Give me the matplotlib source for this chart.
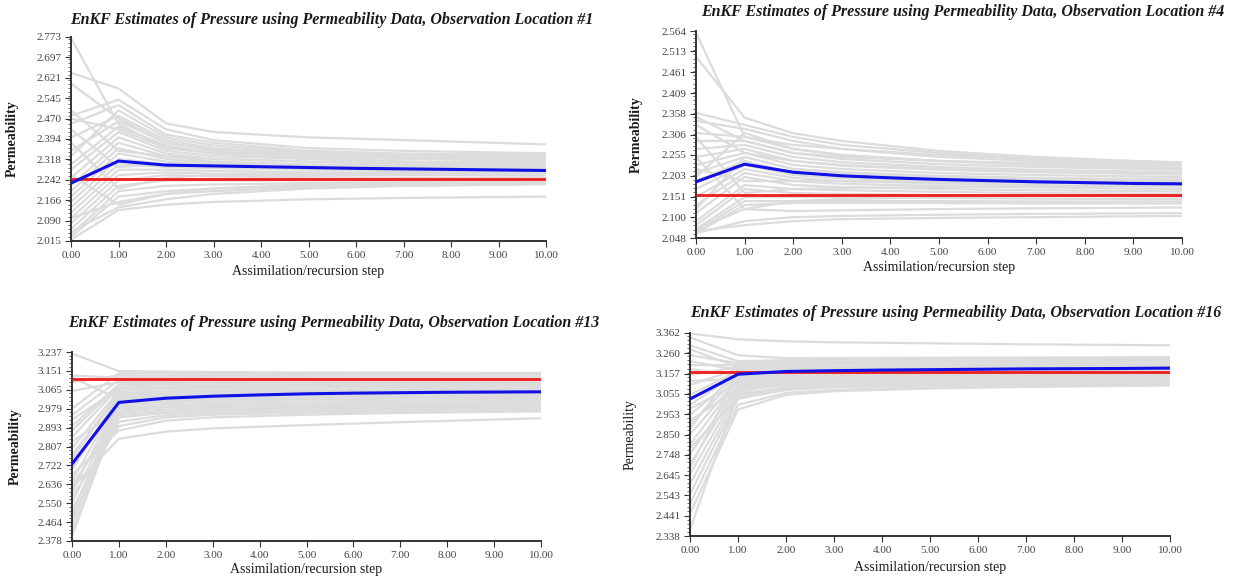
import matplotlib
matplotlib.use("Agg")
import matplotlib.pyplot as plt
from matplotlib.ticker import FixedLocator, AutoMinorLocator

plt.rcParams['font.family'] = ['Liberation Serif', 'DejaVu Serif']

# ---------------- data ----------------
steps = [0, 1, 2, 3, 4, 5, 6, 7, 8, 9, 10]
member_steps = [0, 1, 2, 3, 5, 7, 10]
x_ticklabels = ["0.00", "1.00", "2.00", "3.00", "4.00", "5.00", "6.00", "7.00", "8.00", "9.00", "10.00"]

titles = [
    "EnKF Estimates of Pressure using Permeability Data, Observation Location #1",
    "EnKF Estimates of Pressure using Permeability Data, Observation Location #4",
    "EnKF Estimates of Pressure using Permeability Data, Observation Location #13",
    "EnKF Estimates of Pressure using Permeability Data, Observation Location #16",
]

yticks_1 = ["2.015", "2.090", "2.166", "2.242", "2.318", "2.394", "2.470", "2.545", "2.621", "2.697", "2.773"]
yticks_4 = ["2.048", "2.100", "2.151", "2.203", "2.255", "2.306", "2.358", "2.409", "2.461", "2.513", "2.564"]
yticks_13 = ["2.378", "2.464", "2.550", "2.636", "2.722", "2.807", "2.893", "2.979", "3.065", "3.151", "3.237"]
yticks_16 = ["2.338", "2.441", "2.543", "2.645", "2.748", "2.850", "2.953", "3.055", "3.157", "3.260", "3.362"]

mean_1 = [2.230, 2.312, 2.297, 2.294, 2.291, 2.288, 2.285, 2.283, 2.281, 2.279, 2.277]
mean_4 = [2.188, 2.232, 2.212, 2.203, 2.198, 2.194, 2.191, 2.188, 2.186, 2.184, 2.183]
mean_13 = [2.728, 3.008, 3.027, 3.036, 3.042, 3.047, 3.050, 3.052, 3.054, 3.055, 3.056]
mean_16 = [3.029, 3.154, 3.168, 3.172, 3.175, 3.177, 3.179, 3.181, 3.182, 3.183, 3.185]

truth_1 = 2.247
truth_4 = 2.155
truth_13 = 3.115
truth_16 = 3.165

members_1 = [
    [2.769, 2.45, 2.36, 2.34, 2.32, 2.31, 2.30],
    [2.64, 2.582, 2.452, 2.42, 2.40, 2.39, 2.374],
    [2.02, 2.13, 2.15, 2.16, 2.17, 2.175, 2.180],
    [2.05, 2.14, 2.17, 2.19, 2.21, 2.22, 2.226],
    [2.48, 2.54, 2.43, 2.39, 2.36, 2.35, 2.341],
    [2.45, 2.52, 2.41, 2.38, 2.35, 2.34, 2.335],
    [2.40, 2.48, 2.39, 2.36, 2.34, 2.33, 2.325],
    [2.35, 2.46, 2.38, 2.35, 2.33, 2.325, 2.32],
    [2.30, 2.44, 2.37, 2.34, 2.325, 2.32, 2.315],
    [2.28, 2.42, 2.35, 2.33, 2.32, 2.31, 2.308],
    [2.25, 2.40, 2.34, 2.32, 2.31, 2.305, 2.30],
    [2.22, 2.38, 2.33, 2.31, 2.30, 2.295, 2.292],
    [2.20, 2.36, 2.32, 2.305, 2.295, 2.29, 2.287],
    [2.18, 2.34, 2.31, 2.30, 2.29, 2.285, 2.282],
    [2.16, 2.32, 2.30, 2.29, 2.285, 2.28, 2.277],
    [2.14, 2.30, 2.29, 2.285, 2.28, 2.275, 2.272],
    [2.12, 2.28, 2.28, 2.275, 2.27, 2.268, 2.265],
    [2.10, 2.26, 2.27, 2.265, 2.262, 2.26, 2.258],
    [2.08, 2.24, 2.26, 2.255, 2.252, 2.25, 2.25],
    [2.06, 2.22, 2.24, 2.24, 2.24, 2.24, 2.242],
    [2.04, 2.20, 2.22, 2.225, 2.23, 2.233, 2.235],
    [2.03, 2.18, 2.20, 2.21, 2.22, 2.225, 2.23],
    [2.10, 2.16, 2.19, 2.20, 2.215, 2.22, 2.228],
    [2.33, 2.50, 2.40, 2.37, 2.345, 2.335, 2.33],
    [2.60, 2.47, 2.38, 2.355, 2.335, 2.325, 2.318],
    [2.50, 2.35, 2.33, 2.32, 2.31, 2.30, 2.296],
    [2.43, 2.29, 2.30, 2.30, 2.295, 2.29, 2.288],
    [2.38, 2.21, 2.25, 2.26, 2.262, 2.263, 2.262],
    [2.26, 2.15, 2.19, 2.21, 2.225, 2.23, 2.238],
    [2.47, 2.43, 2.36, 2.345, 2.33, 2.322, 2.312],
]

members_4 = [
    [2.56, 2.30, 2.28, 2.27, 2.255, 2.245, 2.237],
    [2.50, 2.348, 2.309, 2.29, 2.265, 2.25, 2.235],
    [2.36, 2.33, 2.30, 2.28, 2.26, 2.245, 2.232],
    [2.34, 2.32, 2.29, 2.27, 2.25, 2.24, 2.228],
    [2.31, 2.30, 2.27, 2.255, 2.24, 2.232, 2.224],
    [2.29, 2.29, 2.26, 2.245, 2.232, 2.225, 2.218],
    [2.27, 2.28, 2.25, 2.237, 2.225, 2.218, 2.212],
    [2.25, 2.27, 2.24, 2.228, 2.218, 2.212, 2.206],
    [2.23, 2.26, 2.23, 2.22, 2.21, 2.205, 2.200],
    [2.21, 2.25, 2.22, 2.212, 2.203, 2.198, 2.194],
    [2.19, 2.24, 2.21, 2.204, 2.196, 2.192, 2.188],
    [2.17, 2.23, 2.205, 2.197, 2.19, 2.186, 2.182],
    [2.15, 2.22, 2.198, 2.19, 2.184, 2.18, 2.176],
    [2.13, 2.21, 2.19, 2.183, 2.178, 2.174, 2.170],
    [2.11, 2.20, 2.18, 2.175, 2.17, 2.167, 2.164],
    [2.09, 2.18, 2.17, 2.167, 2.163, 2.16, 2.158],
    [2.08, 2.17, 2.16, 2.158, 2.155, 2.153, 2.151],
    [2.07, 2.15, 2.15, 2.15, 2.148, 2.146, 2.145],
    [2.065, 2.14, 2.14, 2.14, 2.14, 2.139, 2.139],
    [2.06, 2.13, 2.135, 2.135, 2.135, 2.134, 2.134],
    [2.07, 2.12, 2.115, 2.117, 2.12, 2.122, 2.124],
    [2.06, 2.09, 2.10, 2.103, 2.106, 2.108, 2.110],
    [2.065, 2.08, 2.09, 2.095, 2.098, 2.10, 2.103],
    [2.33, 2.26, 2.24, 2.23, 2.22, 2.213, 2.208],
    [2.30, 2.16, 2.17, 2.173, 2.175, 2.177, 2.178],
    [2.25, 2.12, 2.14, 2.145, 2.15, 2.152, 2.155],
    [2.20, 2.31, 2.27, 2.255, 2.24, 2.23, 2.222],
    [2.12, 2.25, 2.22, 2.21, 2.20, 2.195, 2.19],
    [2.35, 2.29, 2.26, 2.25, 2.24, 2.235, 2.23],
    [2.22, 2.19, 2.19, 2.19, 2.188, 2.186, 2.185],
]

members_13 = [
    [3.23, 3.15, 3.148, 3.146, 3.144, 3.143, 3.142],
    [3.10, 3.13, 3.13, 3.128, 3.127, 3.126, 3.125],
    [2.95, 3.11, 3.11, 3.11, 3.11, 3.11, 3.11],
    [2.90, 3.09, 3.095, 3.097, 3.098, 3.099, 3.10],
    [2.85, 3.075, 3.08, 3.083, 3.086, 3.088, 3.09],
    [2.80, 3.06, 3.068, 3.072, 3.076, 3.078, 3.08],
    [2.75, 3.05, 3.058, 3.062, 3.066, 3.068, 3.07],
    [2.70, 3.04, 3.048, 3.052, 3.056, 3.058, 3.06],
    [2.65, 3.03, 3.04, 3.044, 3.048, 3.05, 3.052],
    [2.60, 3.02, 3.03, 3.035, 3.04, 3.043, 3.045],
    [2.55, 3.01, 3.02, 3.026, 3.031, 3.034, 3.037],
    [2.50, 3.00, 3.01, 3.016, 3.022, 3.025, 3.028],
    [2.45, 2.99, 3.00, 3.006, 3.012, 3.016, 3.02],
    [2.40, 2.98, 2.99, 2.996, 3.002, 3.006, 3.01],
    [2.42, 2.96, 2.975, 2.983, 2.99, 2.995, 3.00],
    [2.48, 2.94, 2.96, 2.97, 2.978, 2.984, 2.99],
    [2.52, 2.92, 2.95, 2.96, 2.97, 2.977, 2.984],
    [2.58, 2.90, 2.94, 2.952, 2.962, 2.968, 2.975],
    [2.62, 2.843, 2.875, 2.89, 2.905, 2.918, 2.936],
    [2.68, 2.88, 2.925, 2.94, 2.952, 2.96, 2.967],
    [2.98, 3.14, 3.14, 3.138, 3.136, 3.135, 3.134],
    [3.13, 3.12, 3.12, 3.118, 3.118, 3.117, 3.117],
    [3.06, 3.10, 3.10, 3.10, 3.102, 3.103, 3.104],
    [2.93, 3.07, 3.075, 3.078, 3.08, 3.082, 3.085],
    [2.88, 3.085, 3.09, 3.09, 3.092, 3.094, 3.095],
    [2.77, 3.045, 3.05, 3.055, 3.06, 3.063, 3.066],
    [3.12, 3.025, 3.035, 3.04, 3.046, 3.05, 3.055],
    [2.83, 2.97, 2.985, 2.992, 2.998, 3.002, 3.005],
    [2.72, 3.005, 3.015, 3.02, 3.027, 3.03, 3.033],
    [2.63, 2.95, 2.965, 2.975, 2.985, 2.99, 2.995],
]

members_16 = [
    [3.36, 3.33, 3.32, 3.315, 3.31, 3.305, 3.30],
    [3.30, 3.22, 3.225, 3.228, 3.232, 3.235, 3.238],
    [3.25, 3.21, 3.215, 3.218, 3.222, 3.225, 3.228],
    [3.20, 3.20, 3.205, 3.208, 3.212, 3.215, 3.218],
    [3.15, 3.19, 3.195, 3.198, 3.202, 3.205, 3.208],
    [3.10, 3.18, 3.186, 3.19, 3.194, 3.196, 3.198],
    [3.05, 3.17, 3.177, 3.181, 3.185, 3.187, 3.19],
    [3.00, 3.16, 3.168, 3.172, 3.176, 3.179, 3.182],
    [2.95, 3.15, 3.16, 3.164, 3.168, 3.171, 3.174],
    [2.90, 3.14, 3.15, 3.155, 3.16, 3.163, 3.166],
    [2.85, 3.13, 3.14, 3.146, 3.151, 3.154, 3.158],
    [2.80, 3.12, 3.13, 3.137, 3.142, 3.146, 3.15],
    [2.75, 3.10, 3.12, 3.128, 3.134, 3.138, 3.142],
    [2.70, 3.09, 3.11, 3.118, 3.125, 3.13, 3.134],
    [2.65, 3.07, 3.10, 3.108, 3.116, 3.121, 3.126],
    [2.60, 3.05, 3.09, 3.10, 3.108, 3.113, 3.118],
    [2.55, 3.03, 3.075, 3.088, 3.098, 3.104, 3.11],
    [2.50, 3.00, 3.06, 3.075, 3.088, 3.095, 3.102],
    [2.45, 2.976, 3.05, 3.068, 3.082, 3.09, 3.097],
    [2.37, 3.06, 3.08, 3.09, 3.10, 3.106, 3.112],
    [3.34, 3.25, 3.235, 3.236, 3.237, 3.238, 3.239],
    [3.28, 3.19, 3.19, 3.192, 3.195, 3.197, 3.20],
    [3.22, 3.175, 3.18, 3.184, 3.188, 3.19, 3.193],
    [3.18, 3.15, 3.158, 3.162, 3.166, 3.168, 3.17],
    [3.12, 3.13, 3.138, 3.143, 3.148, 3.15, 3.153],
    [2.98, 3.11, 3.125, 3.132, 3.138, 3.142, 3.146],
    [2.92, 3.08, 3.105, 3.114, 3.122, 3.127, 3.13],
    [2.88, 3.20, 3.21, 3.213, 3.217, 3.22, 3.222],
    [2.78, 3.04, 3.085, 3.095, 3.104, 3.11, 3.115],
    [2.68, 3.16, 3.165, 3.17, 3.173, 3.175, 3.178],
]

# ---------------- layout ----------------
W, H = 1233, 579
fig = plt.figure(figsize=(W / 100, H / 100), dpi=100)


def frac_rect(left, right, top, bottom):
    return [left / W, 1 - bottom / H, (right - left) / W, (bottom - top) / H]


panels = [
    dict(rect=(71, 546, 37, 241), yt=yticks_1, mean=mean_1, truth=truth_1, mem=members_1, title=titles[0],
         title_xy=(332, 20), ylab_x=12, xlab_y=272, ylab_w='bold'),
    dict(rect=(696, 1182, 31, 238), yt=yticks_4, mean=mean_4, truth=truth_4, mem=members_4, title=titles[1],
         title_xy=(963, 12), ylab_x=636, xlab_y=268, ylab_w='bold'),
    dict(rect=(72, 541, 352, 541), yt=yticks_13, mean=mean_13, truth=truth_13, mem=members_13, title=titles[2],
         title_xy=(334, 323), ylab_x=15, xlab_y=570, ylab_w='bold'),
    dict(rect=(690, 1170, 333, 536), yt=yticks_16, mean=mean_16, truth=truth_16, mem=members_16, title=titles[3],
         title_xy=(956, 313), ylab_x=630, xlab_y=567, ylab_w='normal'),
]

for p in panels:
    l, r, t, b = p['rect']
    ax = fig.add_axes(frac_rect(l, r, t, b))
    yvals = [float(s) for s in p['yt']]
    for m in p['mem']:
        ax.plot(member_steps, m, color='#dcdcdc', lw=1.6, solid_joinstyle='round', zorder=1)
    ax.hlines(p['truth'], steps[0], steps[-1], color='#ee1c1c', lw=2.0, zorder=3)
    ax.plot(steps, p['mean'], color='#1010e6', lw=2.2, zorder=4)
    ax.set_xlim(steps[0], steps[-1])
    ax.set_ylim(yvals[0], yvals[-1])
    ax.set_xticks(steps)
    ax.set_xticklabels(x_ticklabels)
    ax.yaxis.set_major_locator(FixedLocator(yvals))
    ax.set_yticklabels(p['yt'])
    ax.yaxis.set_minor_locator(AutoMinorLocator(5))
    for s in ['top', 'right']:
        ax.spines[s].set_visible(False)
    for s in ['left', 'bottom']:
        ax.spines[s].set_color('#333333')
        ax.spines[s].set_linewidth(1.4)
    ax.tick_params(axis='both', which='major', labelsize=8, colors='#333333', labelcolor='#444444',
                   length=4, width=0.8, pad=3)
    ax.tick_params(axis='y', which='minor', length=2, width=0.6, colors='#555555')
    ax.set_facecolor('white')
    tx, ty = p['title_xy']
    fig.text(tx / W, 1 - ty / H, p['title'], ha='center', va='center', fontsize=11.5,
             style='italic', fontweight='bold', color='#1a1a1a')
    fig.text(p['ylab_x'] / W, 1 - ((t + b) / 2) / H, 'Permeability', rotation=90, ha='center',
             va='center', fontsize=10, fontweight=p['ylab_w'], color='#1a1a1a')
    fig.text(((l + r) / 2) / W, 1 - p['xlab_y'] / H, 'Assimilation/recursion step', ha='center',
             va='center', fontsize=10, color='#1a1a1a')

fig.savefig('out.png', dpi=100, facecolor='white')
